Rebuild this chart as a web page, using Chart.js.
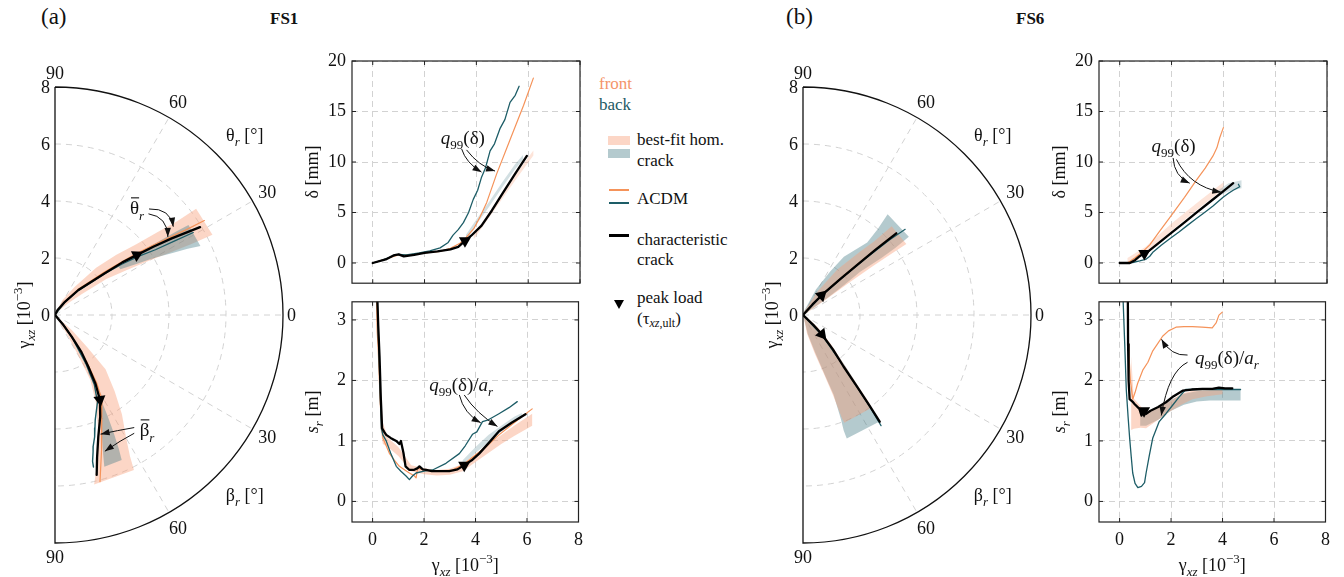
<!DOCTYPE html>
<html>
<head>
<meta charset="utf-8">
<script src="https://cdn.jsdelivr.net/npm/chart.js@4.4.1/dist/chart.umd.min.js"></script>
<style>
  body { margin: 0; background: #fff; font-family: "Liberation Serif", "Times New Roman", serif; }
  #wrap { position: relative; width: 1344px; height: 577px; overflow: hidden; }
  canvas { position: absolute; }
  .t { position: absolute; font-size: 17px; color: #111; white-space: nowrap; line-height: 1; }
  .t sub { font-size: 12px; vertical-align: -3px; }
  .sw { position: absolute; }
</style>
</head>
<body>
<div id="wrap">
  <canvas id="polA" width="310" height="520" style="left:0;top:55px"></canvas>
  <canvas id="topA" width="310" height="260" style="left:280px;top:40px"></canvas>
  <canvas id="botA" width="310" height="292" style="left:280px;top:285px"></canvas>
  <canvas id="polB" width="310" height="520" style="left:748px;top:55px"></canvas>
  <canvas id="topB" width="310" height="260" style="left:1027px;top:40px"></canvas>
  <canvas id="botB" width="310" height="292" style="left:1027px;top:285px"></canvas>

  <div class="t" style="left:41px;top:5px;font-size:23px">(a)</div>
  <div class="t" style="left:270px;top:10px;font-weight:bold">FS1</div>
  <div class="t" style="left:786px;top:5px;font-size:23px">(b)</div>
  <div class="t" style="left:1016px;top:10px;font-weight:bold">FS6</div>

  <!-- legend -->
  <div class="t" style="left:599px;top:75px;color:#f4956a">front</div>
  <div class="t" style="left:599px;top:96px;color:#1d5a64">back</div>
  <div class="sw" style="left:608px;top:136px;width:22px;height:9px;background:rgba(247,158,118,0.42)"></div>
  <div class="sw" style="left:608px;top:149px;width:22px;height:9px;background:rgba(76,128,138,0.42)"></div>
  <div class="t" style="left:637px;top:131px">best-fit hom.</div>
  <div class="t" style="left:637px;top:152px">crack</div>
  <div class="sw" style="left:609px;top:189px;width:20px;height:1.5px;background:#f5935a"></div>
  <div class="sw" style="left:609px;top:202px;width:20px;height:1.5px;background:#1d5d67"></div>
  <div class="t" style="left:637px;top:190px">ACDM</div>
  <div class="sw" style="left:609px;top:234px;width:20px;height:2.5px;background:#000"></div>
  <div class="t" style="left:637px;top:231px">characteristic</div>
  <div class="t" style="left:637px;top:251px">crack</div>
  <div class="sw" style="left:614px;top:300px;width:0;height:0;border-left:5px solid transparent;border-right:5px solid transparent;border-top:9px solid #000"></div>
  <div class="t" style="left:637px;top:289px">peak load</div>
  <div class="t" style="left:637px;top:310px">(τ<sub><i>xz</i>,ult</sub>)</div>
</div>

<script>
// ---- FS1 polar: crack angle vs. shear strain (upper half θr, lower half βr)
const thCharGamA = [0, 0.2, 0.58, 1.2, 2.28, 3.0, 3.55, 4.2, 4.9, 5.95];
const thCharDegA = [64, 63, 53, 47, 40, 38, 36.3, 34.8, 33.3, 31.2];
const thTealGamA = [0, 0.6, 1.2, 2.3, 3.0, 3.6, 4.2, 4.9, 5.65];
const thTealDegA = [62, 52, 46, 39.5, 37, 35, 33, 31.8, 30.8];
const thOrGamA = [0, 0.6, 1.2, 2.3, 3.0, 3.6, 4.2, 4.9, 5.5, 6.2];
const thOrDegA = [64, 54, 48, 41, 38.5, 37, 35.5, 34, 33, 32.3];
const thOrBandGamA = [0.1, 0.6, 1.2, 2.2, 3.0, 3.8, 4.6, 5.4, 6.2];
const thOrBandLoA = [50, 42, 38, 35, 32, 30, 28.5, 27.5, 27];
const thOrBandHiA = [80, 63, 55, 49, 44.5, 41, 39, 37.5, 37];
const thTealBandGamA = [2.8, 3.4, 4.0, 4.6, 5.2, 5.65];
const thTealBandLoA = [35, 32, 30, 28, 26.5, 25.4];
const thTealBandHiA = [37, 36.5, 36, 35.2, 34.5, 34];

const beCharGamA = [0, 0.46, 0.96, 1.6, 2.16, 2.8, 3.37, 3.9, 4.53, 5.2, 5.8];
const beCharDegA = [48, 50, 52.4, 54.5, 57.2, 59.5, 62.1, 66, 70.4, 73.5, 75.4];
const beTealGamA = [0, 0.5, 1.0, 2.0, 2.8, 3.4, 3.94, 4.2, 4.5, 4.8, 5.0, 5.3, 5.5];
const beTealDegA = [47, 50, 53, 57.5, 60.5, 64, 69, 70.5, 72, 73.8, 74.5, 75.6, 75.8];
const beOrGamA = [0, 0.5, 1.0, 2.0, 2.8, 3.4, 4.25, 5.0, 5.5, 6.06];
const beOrDegA = [48, 49.5, 52, 56, 58.5, 61, 67.3, 71, 73, 74.9];
const beOrBandGamA = [0.1, 0.8, 1.6, 2.6, 3.4, 4.2, 5.0, 5.6, 6.1];
const beOrBandLoA = [38, 42, 45, 47, 52, 56, 60, 62, 63];
const beOrBandHiA = [60, 58, 60, 61.5, 65, 69, 72.5, 75, 77];
const beTealBandGamA = [3.4, 4.0, 4.6, 5.2, 5.6];
const beTealBandLoA = [61.5, 62.5, 63.5, 64.5, 65.3];
const beTealBandHiA = [63, 66.5, 69, 71, 72];

// ---- FS6 polar
const thCharGamB = [0, 0.5, 0.97, 1.8, 2.58, 3.4, 4.35];
const thCharDegB = [50, 48, 46.5, 44, 42.8, 42, 41.2];
const thTealGamB = [0, 1, 2, 3, 4, 4.68];
const thTealDegB = [49, 46, 43.5, 42, 41, 40];
const thOrGamB = [0, 1, 2, 3, 4.1];
const thOrDegB = [50, 47, 44, 42.5, 41.5];
const thTealBandGamB = [0.1, 1.0, 1.8, 2.5, 3.4, 4.0, 4.62];
const thTealBandLoB = [30, 35, 36, 37, 36, 36, 36.5];
const thTealBandHiB = [80, 63, 58, 55, 48.5, 49, 50];
const thOrBandGamB = [0.1, 1.0, 2.0, 3.0, 3.6, 4.4];
const thOrBandLoB = [25, 34, 35, 35, 34.8, 34.5];
const thOrBandHiB = [75, 58, 53, 48, 46, 45];

const beCharGamB = [0, 0.5, 0.9, 1.6, 2.3, 3.2, 4.0, 4.61];
const beCharDegB = [42, 44, 45.5, 49, 51.8, 53, 53.8, 54.3];
const beTealGamB = [0, 1, 2, 3, 4, 4.75];
const beTealDegB = [44, 47, 51, 53, 54, 54.8];
const beOrGamB = [0, 1, 2, 3, 4.1];
const beOrDegB = [43, 46.5, 51, 53, 54];
const beOrBandGamB = [0.05, 0.66, 1.4, 2.17, 3.0, 3.87, 4.05];
const beOrBandLoB = [0, 40, 46, 50, 52, 53, 53.5];
const beOrBandHiB = [70, 77.7, 73, 70.5, 69.5, 69.3, 69];
const beTealBandGamB = [0.05, 0.7, 1.4, 2.2, 3.0, 3.9, 4.3, 4.6];
const beTealBandLoB = [5, 42, 47, 50, 52, 53.5, 54, 54.5];
const beTealBandHiB = [70, 76, 72, 70, 69, 70, 70.6, 70.5];

// ---- FS1 δ(γxz)
const dCharGamA = [0, 0.5, 0.8, 1.0, 1.2, 1.6, 2.0, 2.5, 3.0, 3.3, 3.56, 3.8, 4.2, 4.6, 5.0, 5.5, 5.95];
const dCharA = [0, 0.35, 0.75, 0.85, 0.65, 0.8, 1.0, 1.15, 1.35, 1.6, 2.2, 2.7, 3.7, 5.2, 6.85, 8.85, 10.6];
const dTealGamA = [0, 0.4, 0.8, 1.0, 1.3, 1.8, 2.2, 2.6, 2.9, 3.1, 3.3, 3.5, 3.7, 3.88, 4.05, 4.2, 4.35, 4.53, 4.7, 4.91, 5.1, 5.3, 5.5, 5.65];
const dTealA = [0, 0.3, 0.7, 0.85, 0.8, 1.0, 1.2, 1.5, 2.0, 2.76, 3.3, 4.0, 5.0, 6.3, 7.2, 8.5, 9.4, 11.1, 11.8, 13.3, 14.2, 15.9, 16.6, 17.5];
const dOrGamA = [0, 0.5, 1.0, 1.5, 2.0, 2.6, 3.0, 3.37, 3.6, 3.9, 4.15, 4.4, 4.78, 5.3, 5.82, 6.2];
const dOrA = [0, 0.4, 0.8, 0.85, 1.0, 1.15, 1.45, 1.95, 2.5, 3.4, 4.6, 6.0, 8.8, 12.2, 15.6, 18.3];
const dTealBandGamA = [3.6, 4.0, 4.5, 5.0, 5.5, 5.8];
const dTealBandLoA = [2.3, 3.8, 5.6, 7.5, 9.3, 10.2];
const dTealBandHiA = [2.8, 4.3, 6.1, 8.0, 9.8, 10.7];
const dOrBandGamA = [3.9, 4.4, 5.0, 5.6, 6.2];
const dOrBandLoA = [2.35, 4.15, 6.35, 8.55, 10.65];
const dOrBandHiA = [2.85, 4.65, 6.85, 9.05, 11.15];

// ---- FS1 sr(γxz)
const sCharGamA = [0.18, 0.22, 0.27, 0.32, 0.37, 0.45, 0.53, 0.7, 0.92, 1.04, 1.1, 1.2, 1.28, 1.43, 1.6, 1.75, 1.82, 1.95, 2.08, 2.3, 2.6, 2.98, 3.3, 3.56, 3.85, 4.14, 4.5, 4.91, 5.4, 5.94];
const sCharA = [3.4, 2.9, 2.39, 1.7, 1.21, 1.15, 1.1, 1.05, 1.0, 0.95, 1.0, 0.8, 0.58, 0.52, 0.52, 0.55, 0.58, 0.53, 0.52, 0.5, 0.5, 0.5, 0.53, 0.6, 0.68, 0.79, 0.96, 1.16, 1.3, 1.44];
const sTealGamA = [0.18, 0.22, 0.28, 0.34, 0.4, 0.53, 0.7, 0.92, 1.1, 1.3, 1.43, 1.55, 1.69, 2.0, 2.33, 2.85, 3.37, 3.6, 3.88, 4.05, 4.27, 4.5, 4.91, 5.3, 5.62];
const sTealA = [3.4, 2.8, 2.0, 1.21, 1.1, 1.0, 0.8, 0.58, 0.5, 0.42, 0.36, 0.42, 0.47, 0.5, 0.52, 0.63, 0.79, 0.92, 1.11, 1.15, 1.32, 1.35, 1.45, 1.55, 1.65];
const sOrGamA = [0.15, 0.18, 0.22, 0.3, 0.4, 0.5, 0.66, 0.85, 1.04, 1.25, 1.43, 1.6, 1.69, 1.75, 2.0, 2.33, 2.7, 3.1, 3.5, 3.88, 4.4, 4.91, 5.5, 6.2];
const sOrA = [3.4, 2.8, 2.5, 1.6, 1.05, 0.95, 0.79, 0.68, 0.58, 0.52, 0.47, 0.43, 0.39, 0.55, 0.52, 0.5, 0.5, 0.52, 0.6, 0.73, 0.9, 1.1, 1.3, 1.53];
const sOrBandGamA = [0.3, 0.4, 0.6, 1.0, 1.5, 2.0, 2.5, 3.0, 3.5, 4.0, 4.5, 5.0, 5.5, 6.2];
const sOrBandLoA = [1.2, 0.95, 0.9, 0.75, 0.5, 0.45, 0.43, 0.44, 0.5, 0.65, 0.8, 0.95, 1.08, 1.25];
const sOrBandHiA = [2.0, 1.3, 1.05, 0.9, 0.6, 0.55, 0.52, 0.54, 0.62, 0.77, 0.95, 1.1, 1.25, 1.45];
const sTealBandGamA = [3.5, 4.0, 4.5, 5.0, 5.5, 5.8];
const sTealBandLoA = [0.6, 0.8, 0.98, 1.15, 1.3, 1.38];
const sTealBandHiA = [0.68, 0.9, 1.1, 1.25, 1.4, 1.46];

// ---- FS6 δ(γxz)
const dCharGamB = [0, 0.39, 0.6, 0.77, 0.9, 1.03, 1.5, 1.93, 2.5, 2.96, 3.5, 3.99, 4.38];
const dCharB = [0, 0, 0.3, 0.67, 0.9, 1.0, 1.97, 2.85, 4.03, 4.98, 6.09, 7.1, 7.9];
const dTealGamB = [0, 0.5, 0.77, 1.0, 1.16, 1.29, 1.6, 1.93, 2.3, 2.6, 2.96, 3.3, 3.6, 3.99, 4.2, 4.38, 4.63, 4.58];
const dTealB = [0, 0.05, 0.2, 0.35, 0.67, 1.1, 1.75, 2.4, 3.1, 3.7, 4.4, 5.05, 5.65, 6.5, 6.9, 7.2, 7.55, 7.8];
const dOrGamB = [0, 0.3, 0.58, 0.9, 1.16, 1.5, 1.93, 2.5, 2.96, 3.3, 3.6, 3.75, 3.86, 4.0];
const dOrB = [0, 0, 0.5, 1.15, 1.8, 3.0, 4.5, 6.5, 8.2, 9.4, 10.6, 11.4, 12.4, 13.4];
const dOrBandGamB = [0.3, 1.0, 2.0, 3.0, 4.0];
const dOrBandLoB = [0, 0.9, 3.2, 5.3, 7.3];
const dOrBandHiB = [0.5, 1.6, 3.9, 6.0, 8.0];
const dTealBandGamB = [3.8, 4.2, 4.7];
const dTealBandLoB = [6.6, 7.1, 7.4];
const dTealBandHiB = [7.2, 7.9, 8.2];

// ---- FS6 sr(γxz)
const sCharGamB = [0.32, 0.33, 0.35, 0.39, 0.5, 0.58, 0.77, 0.85, 0.95, 1.03, 1.2, 1.5, 1.8, 2.1, 2.45, 2.8, 3.22, 3.6, 3.86, 4.1, 4.38];
const sCharB = [3.4, 2.6, 2.0, 1.69, 1.65, 1.61, 1.53, 1.42, 1.5, 1.45, 1.5, 1.56, 1.64, 1.74, 1.83, 1.85, 1.86, 1.86, 1.88, 1.87, 1.87];
const sOrGamB = [0.36, 0.38, 0.42, 0.51, 0.6, 0.7, 0.9, 1.1, 1.29, 1.5, 1.67, 1.9, 2.19, 2.5, 2.83, 3.2, 3.6, 3.75, 3.86, 3.99];
const sOrB = [2.6, 2.3, 2.0, 1.69, 1.8, 1.95, 2.17, 2.3, 2.49, 2.62, 2.73, 2.82, 2.88, 2.89, 2.89, 2.88, 2.87, 2.95, 3.08, 3.13];
const sTealGamB = [0.13, 0.2, 0.26, 0.33, 0.39, 0.45, 0.51, 0.6, 0.71, 0.85, 0.97, 1.03, 1.15, 1.29, 1.54, 1.8, 2.06, 2.3, 2.57, 3.0, 3.35, 4.12, 4.7];
const sTealB = [3.4, 2.6, 1.85, 1.4, 1.05, 0.75, 0.47, 0.3, 0.23, 0.25, 0.31, 0.47, 0.75, 1.05, 1.32, 1.45, 1.59, 1.72, 1.85, 1.85, 1.85, 1.85, 1.85];
const sOrBandGamB = [0.45, 0.55, 0.8, 1.03, 1.5, 1.93, 2.4, 2.83, 3.4, 4.0];
const sOrBandLoB = [1.18, 1.2, 1.22, 1.21, 1.35, 1.48, 1.6, 1.69, 1.74, 1.77];
const sOrBandHiB = [2.4, 1.7, 1.58, 1.48, 1.55, 1.65, 1.78, 1.83, 1.85, 1.86];
const sTealBandGamB = [0.8, 1.03, 1.5, 2.0, 2.5, 3.0, 3.5, 4.0, 4.7];
const sTealBandLoB = [1.25, 1.25, 1.35, 1.5, 1.6, 1.65, 1.67, 1.67, 1.67];
const sTealBandHiB = [1.5, 1.45, 1.55, 1.68, 1.78, 1.82, 1.84, 1.85, 1.85];

// peak load strain
const peakGamA = 3.56;
const peakGamB = 0.95;

// ticks
const gammaTicks = [0, 2, 4, 6, 8];
const deltaTicks = [0, 5, 10, 15, 20];
const srTicks = [0, 1, 2, 3];
const polarRings = [2, 4, 6];
const polarRadTicks = [0, 2, 4, 6, 8];
const polarAngTicks = [0, 30, 60, 90];
const polarRMax = 8;

const FONT = '"Liberation Serif", "Times New Roman", serif';
const FS = 18;
const ORANGE = '#f5935a', TEAL = '#1d5d67';
const ORANGE_FILL = 'rgba(247,158,118,0.42)', TEAL_FILL = 'rgba(76,128,138,0.42)';
const GRID = '#d2d2d2';
const CHAR_W = 2.3;

function interp(xs, ys, x) {
  for (let i = 1; i < xs.length; i++) {
    if (x <= xs[i]) {
      const t = (x - xs[i - 1]) / (xs[i] - xs[i - 1]);
      return ys[i - 1] + t * (ys[i] - ys[i - 1]);
    }
  }
  return ys[ys.length - 1];
}

// polar (γ, angle) -> plane; sign +1 upper half, -1 lower half
function toXY(g, deg, sign) {
  const a = deg * Math.PI / 180;
  return {x: g * Math.cos(a), y: sign * g * Math.sin(a)};
}
const polarLine = (gam, deg, sign) => gam.map((g, i) => toXY(g, deg[i], sign));
const polarBand = (gam, lo, hi, sign) =>
  gam.map((g, i) => toXY(g, lo[i], sign)).concat(gam.map((g, i) => toXY(g, hi[i], sign)).reverse());
const xyLine = (xs, ys) => xs.map((x, i) => ({x, y: ys[i]}));
const xyBand = (xs, lo, hi) =>
  xs.map((x, i) => ({x, y: lo[i]})).concat(xs.map((x, i) => ({x, y: hi[i]})).reverse());

const band = (data, color) => ({data, showLine: true, fill: 'shape', backgroundColor: color,
  borderWidth: 0, pointRadius: 0, tension: 0});
const line = (data, color, w) => ({data, showLine: true, fill: false, borderColor: color,
  borderWidth: w, pointRadius: 0, tension: 0, borderJoinStyle: 'round', borderCapStyle: 'round'});

// datasets are listed bottom-first; Chart.js paints lower `order` on top
const stacked = list => list.map((d, i) => Object.assign(d, {order: list.length - i}));

// rotation (deg, clockwise) so the triangle points from a to b on screen
function screenRot(chart, a, b) {
  const sx = chart.scales.x, sy = chart.scales.y;
  const dx = sx.getPixelForValue(b.x) - sx.getPixelForValue(a.x);
  const dy = sy.getPixelForValue(b.y) - sy.getPixelForValue(a.y);
  return Math.atan2(dx, -dy) * 180 / Math.PI;
}
function polarMarker(gam, deg, sign, g0) {
  const p = toXY(g0, interp(gam, deg, g0), sign);
  const a = toXY(g0 - 0.2, interp(gam, deg, g0 - 0.2), sign);
  const b = toXY(g0 + 0.2, interp(gam, deg, g0 + 0.2), sign);
  return {data: [p], pointStyle: 'triangle', pointRadius: 7, backgroundColor: '#000',
    borderWidth: 0, rotation: ctx => screenRot(ctx.chart, a, b)};
}
function xyMarker(xs, ys, g0) {
  return {data: [{x: g0, y: interp(xs, ys, g0)}], pointStyle: 'triangle', pointRadius: 7,
    backgroundColor: '#000', borderWidth: 0, rotation: 180};
}

// mixed-style text: parts [{t, i, sub, sup, bar}]
function rich(ctx, parts, x, y, size, align, rot) {
  ctx.save();
  ctx.translate(x, y);
  if (rot) ctx.rotate(rot);
  const font = p => `${p.i ? 'italic ' : ''}${(p.sub || p.sup) ? Math.round(size * 0.7) : size}px ${FONT}`;
  let w = 0;
  const ws = parts.map(p => { ctx.font = font(p); const m = ctx.measureText(p.t).width; w += m; return m; });
  let cx = align === 'center' ? -w / 2 : align === 'right' ? -w : 0;
  ctx.textAlign = 'left';
  ctx.textBaseline = 'alphabetic';
  ctx.fillStyle = '#111';
  const base = size * 0.33;
  parts.forEach((p, k) => {
    ctx.font = font(p);
    const dy = p.sub ? size * 0.28 : p.sup ? -size * 0.42 : 0;
    ctx.fillText(p.t, cx, base + dy);
    if (p.bar) ctx.fillRect(cx + 1, base - size * 0.9, ws[k] - 1, 1.1);
    cx += ws[k];
  });
  ctx.restore();
}

function arrow(ctx, p0, c, p1) {
  ctx.beginPath();
  ctx.moveTo(p0.x, p0.y);
  ctx.quadraticCurveTo(c.x, c.y, p1.x, p1.y);
  ctx.stroke();
  const ang = Math.atan2(p1.y - c.y, p1.x - c.x), L = 9, W = 3.2;
  ctx.beginPath();
  ctx.moveTo(p1.x, p1.y);
  ctx.lineTo(p1.x - L * Math.cos(ang) + W * Math.sin(ang), p1.y - L * Math.sin(ang) - W * Math.cos(ang));
  ctx.lineTo(p1.x - L * Math.cos(ang) - W * Math.sin(ang), p1.y - L * Math.sin(ang) + W * Math.cos(ang));
  ctx.closePath();
  ctx.fill();
}

function drawNotes(chart, notes) {
  const {ctx} = chart, sx = chart.scales.x, sy = chart.scales.y;
  const px = p => ({x: sx.getPixelForValue(p[0]), y: sy.getPixelForValue(p[1])});
  ctx.save();
  ctx.strokeStyle = '#111';
  ctx.fillStyle = '#111';
  ctx.lineWidth = 1;
  (notes || []).forEach(n => {
    const q = px(n.at);
    rich(ctx, n.parts, q.x, q.y, 19, 'center');
    n.arrows.forEach(a => arrow(ctx, px(a[0]), px(a[1]), px(a[2])));
  });
  ctx.restore();
}

const GAMMA_LABEL = [{t: 'γ'}, {t: 'xz', i: 1, sub: 1}, {t: ' [10'}, {t: '−3', sup: 1}, {t: ']'}];

// half-polar grid, frame and labels
function polarDecor(notes) {
  return {
    id: 'polarDecor',
    beforeDatasetsDraw(chart) {
      const {ctx} = chart, sx = chart.scales.x, sy = chart.scales.y;
      const cx = sx.getPixelForValue(0), cy = sy.getPixelForValue(0);
      const R = v => sx.getPixelForValue(v) - cx;
      ctx.save();
      ctx.strokeStyle = GRID;
      ctx.lineWidth = 1;
      ctx.setLineDash([6, 5]);
      polarRings.forEach(r => { ctx.beginPath(); ctx.arc(cx, cy, R(r), -Math.PI / 2, Math.PI / 2); ctx.stroke(); });
      [-60, -30, 0, 30, 60].forEach(d => {
        const a = d * Math.PI / 180;
        ctx.beginPath();
        ctx.moveTo(cx, cy);
        ctx.lineTo(cx + R(polarRMax) * Math.cos(a), cy - R(polarRMax) * Math.sin(a));
        ctx.stroke();
      });
      ctx.restore();
    },
    afterDatasetsDraw(chart) {
      const {ctx} = chart, sx = chart.scales.x, sy = chart.scales.y;
      const cx = sx.getPixelForValue(0), cy = sy.getPixelForValue(0);
      const R = v => sx.getPixelForValue(v) - cx;
      const at = (r, d) => ({x: cx + R(r) * Math.cos(d * Math.PI / 180), y: cy - R(r) * Math.sin(d * Math.PI / 180)});
      ctx.save();
      ctx.strokeStyle = '#111';
      ctx.lineWidth = 1.3;
      ctx.beginPath();
      ctx.moveTo(cx, cy - R(polarRMax));
      ctx.arc(cx, cy, R(polarRMax), -Math.PI / 2, Math.PI / 2);
      ctx.lineTo(cx, cy - R(polarRMax));
      ctx.stroke();
      ctx.restore();

      polarRadTicks.forEach(r => rich(ctx, [{t: String(r)}], cx - 5, cy - R(r), FS, 'right'));
      const labR = {0: 8.3, 30: 8.6, 60: 8.63, 90: 8.5};
      polarAngTicks.forEach(d => {
        const p = at(labR[d], d);
        rich(ctx, [{t: String(d)}], p.x, p.y, FS, 'center');
        if (d > 0) {
          const q = at(labR[d], -d);
          rich(ctx, [{t: String(d)}], q.x, q.y, FS, 'center');
        }
      });
      const pt = at(9.18, 43.5), pb = at(9.18, -43.5);
      rich(ctx, [{t: 'θ'}, {t: 'r', i: 1, sub: 1}, {t: ' [°]'}], pt.x, pt.y, FS, 'center');
      rich(ctx, [{t: 'β'}, {t: 'r', i: 1, sub: 1}, {t: ' [°]'}], pb.x, pb.y, FS, 'center');
      rich(ctx, GAMMA_LABEL, cx - 31, cy, FS, 'center', -Math.PI / 2);
      drawNotes(chart, notes);
    }
  };
}

// closed frame with inward ticks, axis titles and notes
function frameDecor(o) {
  return {
    id: 'frameDecor',
    afterDatasetsDraw(chart) {
      const {ctx, chartArea: a} = chart, sx = chart.scales.x, sy = chart.scales.y;
      ctx.save();
      ctx.strokeStyle = '#222';
      ctx.lineWidth = 1.2;
      ctx.strokeRect(a.left, a.top, a.width, a.height);
      ctx.lineWidth = 1;
      ctx.beginPath();
      sx.ticks.forEach(t => {
        const p = sx.getPixelForValue(t.value);
        ctx.moveTo(p, a.bottom); ctx.lineTo(p, a.bottom - 4);
        ctx.moveTo(p, a.top); ctx.lineTo(p, a.top + 4);
      });
      sy.ticks.forEach(t => {
        const p = sy.getPixelForValue(t.value);
        ctx.moveTo(a.left, p); ctx.lineTo(a.left + 4, p);
        ctx.moveTo(a.right, p); ctx.lineTo(a.right - 4, p);
      });
      ctx.stroke();
      ctx.restore();
      rich(ctx, o.yTitle, a.left - 40, (a.top + a.bottom) / 2, FS, 'center', -Math.PI / 2);
      if (o.xTitle) rich(ctx, o.xTitle, (a.left + a.right) / 2, a.bottom + 43, FS, 'center');
      drawNotes(chart, o.notes);
    }
  };
}

const baseOpts = {
  responsive: false, animation: false, events: [], devicePixelRatio: 1,
  plugins: {legend: {display: false}, tooltip: {enabled: false}}
};

function polarChart(id, datasets, notes) {
  return new Chart(document.getElementById(id), {
    type: 'scatter',
    data: {datasets: stacked(datasets)},
    options: Object.assign({}, baseOpts, {
      layout: {padding: {left: 55, top: 32, right: 27, bottom: 32}},
      scales: {
        x: {type: 'linear', min: 0, max: polarRMax, display: false},
        y: {type: 'linear', min: -polarRMax, max: polarRMax, display: false}
      }
    }),
    plugins: [polarDecor(notes)]
  });
}

function cartChart(id, datasets, o) {
  const tickFont = {family: FONT, size: FS};
  return new Chart(document.getElementById(id), {
    type: 'scatter',
    data: {datasets: stacked(datasets)},
    options: Object.assign({}, baseOpts, {
      layout: {padding: o.pad},
      scales: {
        x: {
          type: 'linear', min: -0.8, max: 8,
          afterBuildTicks: s => { s.ticks = gammaTicks.map(v => ({value: v})); },
          afterFit: s => { s.height = o.xh; },
          grid: {color: GRID, drawTicks: false},
          border: {display: false, dash: [6, 4]},
          ticks: {display: !!o.xTitle, padding: 7, color: '#111', font: tickFont}
        },
        y: {
          type: 'linear', min: o.ymin, max: o.ymax,
          afterBuildTicks: s => { s.ticks = o.yTicks.map(v => ({value: v})); },
          afterFit: s => { s.width = 72; },
          grid: {color: GRID, drawTicks: false},
          border: {display: false, dash: [6, 4]},
          ticks: {padding: 6, color: '#111', font: tickFont}
        }
      }
    }),
    plugins: [frameDecor(o)]
  });
}

const DELTA_LABEL = [{t: 'δ [mm]'}];
const SR_LABEL = [{t: 's', i: 1}, {t: 'r', i: 1, sub: 1}, {t: ' [m]'}];
const Q99 = [{t: 'q', i: 1}, {t: '99', sub: 1}, {t: '(δ)'}];
const Q99AR = [{t: 'q', i: 1}, {t: '99', sub: 1}, {t: '(δ)/'}, {t: 'a', i: 1}, {t: 'r', i: 1, sub: 1}];

// ---------- FS1 ----------
polarChart('polA', [
  band(polarBand(thOrBandGamA, thOrBandLoA, thOrBandHiA, 1), ORANGE_FILL),
  band(polarBand(thTealBandGamA, thTealBandLoA, thTealBandHiA, 1), TEAL_FILL),
  band(polarBand(beOrBandGamA, beOrBandLoA, beOrBandHiA, -1), ORANGE_FILL),
  band(polarBand(beTealBandGamA, beTealBandLoA, beTealBandHiA, -1), TEAL_FILL),
  line(polarLine(thOrGamA, thOrDegA, 1), ORANGE, 1.2),
  line(polarLine(thTealGamA, thTealDegA, 1), TEAL, 1.2),
  line(polarLine(beOrGamA, beOrDegA, -1), ORANGE, 1.2),
  line(polarLine(beTealGamA, beTealDegA, -1), TEAL, 1.4),
  line(polarLine(thCharGamA, thCharDegA, 1), '#000', CHAR_W),
  line(polarLine(beCharGamA, beCharDegA, -1), '#000', CHAR_W),
  polarMarker(thCharGamA, thCharDegA, 1, peakGamA),
  polarMarker(beCharGamA, beCharDegA, -1, peakGamA - 0.2)
], [
  {parts: [{t: 'θ', bar: 1}, {t: 'r', i: 1, sub: 1}], at: [2.88, 3.75],
    arrows: [[[3.3, 3.72], [4.05, 3.75], [4.15, 3.1]], [[3.28, 3.55], [3.95, 3.45], [3.96, 2.74]]]},
  {parts: [{t: 'β', bar: 1}, {t: 'r', i: 1, sub: 1}], at: [3.23, -4.04],
    arrows: [[[2.78, -3.95], [2.2, -4.05], [1.6, -4.18]], [[2.78, -4.15], [2.3, -4.4], [1.75, -4.78]]]}
]);

cartChart('topA', [
  band(xyBand(dOrBandGamA, dOrBandLoA, dOrBandHiA), 'rgba(247,158,118,0.28)'),
  band(xyBand(dTealBandGamA, dTealBandLoA, dTealBandHiA), 'rgba(76,128,138,0.25)'),
  line(xyLine(dOrGamA, dOrA), ORANGE, 1.2),
  line(xyLine(dTealGamA, dTealA), TEAL, 1.3),
  line(xyLine(dCharGamA, dCharA), '#000', CHAR_W),
  xyMarker(dCharGamA, dCharA, peakGamA)
], {
  pad: {left: 0, right: 10, top: 21, bottom: 11}, xh: 0, ymin: -2, ymax: 20, yTicks: deltaTicks,
  yTitle: DELTA_LABEL,
  notes: [{parts: Q99, at: [3.48, 12.4],
    arrows: [[[3.43, 11.3], [3.6, 9.9], [4.2, 9.0]], [[3.62, 11.2], [4.1, 9.6], [4.72, 9.1]]]}]
});

cartChart('botA', [
  band(xyBand(sOrBandGamA, sOrBandLoA, sOrBandHiA), ORANGE_FILL),
  band(xyBand(sTealBandGamA, sTealBandLoA, sTealBandHiA), 'rgba(76,128,138,0.25)'),
  line(xyLine(sOrGamA, sOrA), ORANGE, 1.2),
  line(xyLine(sTealGamA, sTealA), TEAL, 1.3),
  line(xyLine(sCharGamA, sCharA), '#000', CHAR_W),
  xyMarker(sCharGamA, sCharA, peakGamA)
], {
  pad: {left: 0, right: 10, top: 9, bottom: 0}, xh: 55, ymin: -0.34, ymax: 3.3, yTicks: srTicks,
  yTitle: SR_LABEL, xTitle: GAMMA_LABEL,
  notes: [{parts: Q99AR, at: [3.44, 1.93],
    arrows: [[[3.37, 1.76], [3.55, 1.45], [4.2, 1.3]], [[3.56, 1.76], [4.05, 1.45], [4.85, 1.24]]]}]
});

// ---------- FS6 ----------
polarChart('polB', [
  band(polarBand(thTealBandGamB, thTealBandLoB, thTealBandHiB, 1), TEAL_FILL),
  band(polarBand(thOrBandGamB, thOrBandLoB, thOrBandHiB, 1), ORANGE_FILL),
  band(polarBand(beTealBandGamB, beTealBandLoB, beTealBandHiB, -1), TEAL_FILL),
  band(polarBand(beOrBandGamB, beOrBandLoB, beOrBandHiB, -1), ORANGE_FILL),
  line(polarLine(thOrGamB, thOrDegB, 1), ORANGE, 1.2),
  line(polarLine(thTealGamB, thTealDegB, 1), TEAL, 1.2),
  line(polarLine(beOrGamB, beOrDegB, -1), ORANGE, 1.2),
  line(polarLine(beTealGamB, beTealDegB, -1), TEAL, 1.2),
  line(polarLine(thCharGamB, thCharDegB, 1), '#000', CHAR_W),
  line(polarLine(beCharGamB, beCharDegB, -1), '#000', CHAR_W),
  polarMarker(thCharGamB, thCharDegB, 1, peakGamB),
  polarMarker(beCharGamB, beCharDegB, -1, peakGamB)
], []);

cartChart('topB', [
  band(xyBand(dOrBandGamB, dOrBandLoB, dOrBandHiB), 'rgba(247,158,118,0.28)'),
  band(xyBand(dTealBandGamB, dTealBandLoB, dTealBandHiB), 'rgba(76,128,138,0.25)'),
  line(xyLine(dOrGamB, dOrB), ORANGE, 1.2),
  line(xyLine(dTealGamB, dTealB), TEAL, 1.3),
  line(xyLine(dCharGamB, dCharB), '#000', CHAR_W),
  xyMarker(dCharGamB, dCharB, peakGamB)
], {
  pad: {left: 0, right: 10, top: 21, bottom: 11}, xh: 0, ymin: -2, ymax: 20, yTicks: deltaTicks,
  yTitle: DELTA_LABEL,
  notes: [{parts: Q99, at: [2.08, 11.65],
    arrows: [[[2.06, 10.4], [2.1, 8.6], [2.7, 7.9]], [[2.19, 10.25], [2.7, 7.6], [3.92, 7.0]]]}]
});

cartChart('botB', [
  band(xyBand(sTealBandGamB, sTealBandLoB, sTealBandHiB), TEAL_FILL),
  band(xyBand(sOrBandGamB, sOrBandLoB, sOrBandHiB), ORANGE_FILL),
  line(xyLine(sOrGamB, sOrB), ORANGE, 1.2),
  line(xyLine(sTealGamB, sTealB), TEAL, 1.3),
  line(xyLine(sCharGamB, sCharB), '#000', CHAR_W),
  xyMarker(sCharGamB, sCharB, peakGamB)
], {
  pad: {left: 0, right: 10, top: 9, bottom: 0}, xh: 55, ymin: -0.34, ymax: 3.3, yTicks: srTicks,
  yTitle: SR_LABEL, xTitle: GAMMA_LABEL,
  notes: [{parts: Q99AR, at: [4.17, 2.38],
    arrows: [[[2.64, 2.42], [2.0, 2.4], [1.63, 2.68]], [[2.64, 2.3], [1.9, 2.15], [1.62, 1.42]]]}]
});
</script>
</body>
</html>
